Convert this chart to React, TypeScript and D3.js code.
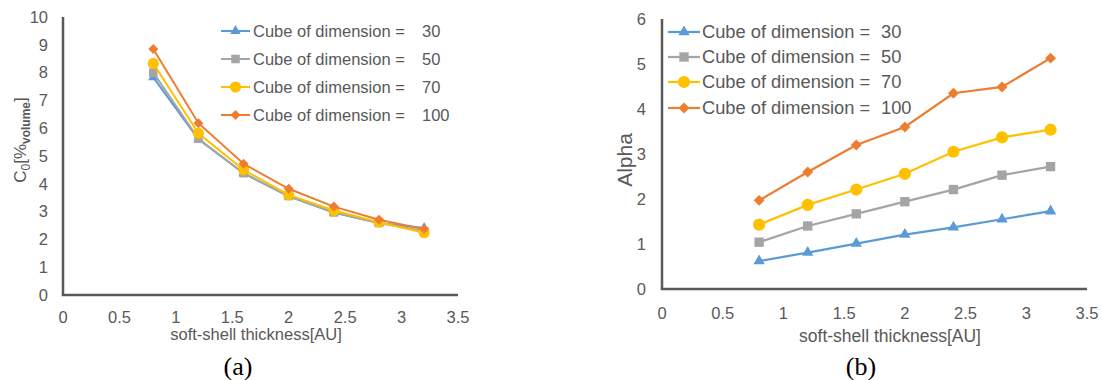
import React from 'react';
import * as d3 from 'd3';

// soft-shell thickness values shared by both panels
const thickness = [0.8, 1.2, 1.6, 2.0, 2.4, 2.8, 3.2];

// panel (a): C0 [% volume]
const c0Dim30 = [7.83, 5.6, 4.38, 3.55, 2.97, 2.59, 2.41];
const c0Dim50 = [8.0, 5.62, 4.38, 3.56, 2.97, 2.59, 2.3];
const c0Dim70 = [8.33, 5.82, 4.5, 3.6, 3.04, 2.62, 2.24];
const c0Dim100 = [8.85, 6.18, 4.72, 3.82, 3.18, 2.71, 2.37];

// panel (b): Alpha
const alphaDim30 = [0.62, 0.81, 1.01, 1.21, 1.37, 1.55, 1.73];
const alphaDim50 = [1.04, 1.4, 1.67, 1.94, 2.21, 2.53, 2.72];
const alphaDim70 = [1.43, 1.87, 2.21, 2.56, 3.05, 3.37, 3.54];
const alphaDim100 = [1.97, 2.6, 3.2, 3.6, 4.35, 4.49, 5.13];

const dimensions = ['30', '50', '70', '100'];
const xTicks = [0, 0.5, 1, 1.5, 2, 2.5, 3, 3.5];
const c0Ticks = [0, 1, 2, 3, 4, 5, 6, 7, 8, 9, 10];
const alphaTicks = [0, 1, 2, 3, 4, 5, 6];

const colors = ['#5B9BD5', '#A5A5A5', '#FFC000', '#ED7D31'];
const textColor = '#595959';
const font = '"Liberation Sans", Arial, sans-serif';

// marker shape per series: triangle, square, circle, diamond
const markerPath = (i: number, big: boolean) => {
  const k = big ? 1.15 : 1.05;
  if (i === 0) return d3.symbol(d3.symbolTriangle, 42 * k * k)();
  if (i === 1) return d3.symbol(d3.symbolSquare, 66 * k * k)();
  if (i === 2) return d3.symbol(d3.symbolCircle, 88 * k * k)();
  return d3.symbol(d3.symbolSquare, 45 * k * k)();
};

const Marker = ({ i, x, y, big }: { i: number; x: number; y: number; big: boolean }) => (
  <path
    d={markerPath(i, big) || ''}
    transform={`translate(${x},${y})${i === 3 ? ' rotate(45)' : ''}`}
    fill={colors[i]}
  />
);

type PanelProps = {
  series: number[][];
  yMax: number;
  yTicks: number[];
  x0: number;
  x1: number;
  yTop: number;
  yBottom: number;
  tickLabelX: number;
  xTickY: number;
  legend: { lineX0: number; lineX1: number; textX: number; numX: number; rows: number[]; size: number };
  big: boolean;
  xTitleX: number;
  xTitleY: number;
  xTitleSize: number;
  titleX: number;
  titleY: number;
  titleSize: number;
  yTitle: React.ReactNode;
  caption: string;
  captionX: number;
};

const Panel = (p: PanelProps) => {
  const x = d3.scaleLinear().domain([0, 3.5]).range([p.x0, p.x1]);
  const y = d3.scaleLinear().domain([0, p.yMax]).range([p.yBottom, p.yTop]);
  const line = d3
    .line<number>()
    .x((_, j) => x(thickness[j]))
    .y((d) => y(d));
  const lw = p.big ? 2.25 : 2;
  return (
    <g>
      {/* axes */}
      <line x1={p.x0} x2={p.x0} y1={p.yTop} y2={p.yBottom} stroke={textColor} strokeWidth={2.5} />
      <line x1={p.x0 - 1.25} x2={p.x1} y1={p.yBottom} y2={p.yBottom} stroke={textColor} strokeWidth={2.5} />
      {p.yTicks.map((t) => (
        <text key={t} x={p.tickLabelX} y={y(t)} dy="0.35em" textAnchor="end" fontSize={16.5} fill={textColor} fontFamily={font}>
          {t}
        </text>
      ))}
      {xTicks.map((t) => (
        <text key={t} x={x(t)} y={p.xTickY} dy="0.35em" textAnchor="middle" fontSize={16.5} fill={textColor} fontFamily={font}>
          {t}
        </text>
      ))}
      <text x={p.xTitleX} y={p.xTitleY} textAnchor="middle" fontSize={p.xTitleSize} fill={textColor} fontFamily={font}>
        soft-shell thickness[AU]
      </text>
      <g transform={`translate(${p.titleX},${p.titleY}) rotate(-90)`}>
        <text textAnchor="middle" dy="0.35em" fontSize={p.titleSize} fill={textColor} fontFamily={font}>
          {p.yTitle}
        </text>
      </g>
      {/* series */}
      {p.series.map((s, i) => (
        <g key={i}>
          <path d={line(s) || ''} fill="none" stroke={colors[i]} strokeWidth={lw} />
          {s.map((v, j) => (
            <Marker key={j} i={i} x={x(thickness[j])} y={y(v)} big={p.big} />
          ))}
        </g>
      ))}
      {/* legend */}
      {dimensions.map((d, i) => {
        const ry = p.legend.rows[i];
        return (
          <g key={d}>
            <line x1={p.legend.lineX0} x2={p.legend.lineX1} y1={ry} y2={ry} stroke={colors[i]} strokeWidth={lw} />
            <Marker i={i} x={(p.legend.lineX0 + p.legend.lineX1) / 2} y={ry} big={p.big} />
            <text x={p.legend.textX} y={ry} dy="0.35em" fontSize={p.legend.size} fill={textColor} fontFamily={font}>
              Cube of dimension =
            </text>
            <text x={p.legend.numX} y={ry} dy="0.35em" fontSize={p.legend.size} fill={textColor} fontFamily={font}>
              {d}
            </text>
          </g>
        );
      })}
      <text x={p.captionX} y={375} textAnchor="middle" fontSize={26} fill="#000" fontFamily='"Liberation Serif", "Times New Roman", serif'>
        {p.caption}
      </text>
    </g>
  );
};

export default function App() {
  return (
    <svg
      width={1103}
      height={380}
      style={{ position: 'absolute', left: 0, top: 0, background: '#fff' }}
    >
      <rect width={1103} height={380} fill="#fff" />
      <Panel
        series={[c0Dim30, c0Dim50, c0Dim70, c0Dim100]}
        yMax={10}
        yTicks={c0Ticks}
        x0={63}
        x1={458}
        yTop={17}
        yBottom={295}
        tickLabelX={48}
        xTickY={317}
        legend={{ lineX0: 221, lineX1: 250, textX: 253, numX: 422, rows: [31, 59, 87, 115], size: 16.5 }}
        big={false}
        xTitleX={256}
        xTitleY={340}
        xTitleSize={16.5}
        titleX={20}
        titleY={140}
        titleSize={17}
        yTitle={
          <>
            <tspan>C</tspan>
            <tspan fontSize={12} dy="4">0</tspan>
            <tspan dy="-4">[%</tspan>
            <tspan fontSize={12} fontWeight="bold" dy="4">volume</tspan>
            <tspan dy="-4">]</tspan>
          </>
        }
        caption="(a)"
        captionX={238}
      />
      <Panel
        series={[alphaDim30, alphaDim50, alphaDim70, alphaDim100]}
        yMax={6}
        yTicks={alphaTicks}
        x0={662}
        x1={1087}
        yTop={19}
        yBottom={289}
        tickLabelX={646}
        xTickY={313}
        legend={{ lineX0: 668, lineX1: 700, textX: 702, numX: 881, rows: [32, 57, 82, 108], size: 18.3 }}
        big={true}
        xTitleX={890}
        xTitleY={342}
        xTitleSize={17.5}
        titleX={625}
        titleY={160}
        titleSize={21}
        yTitle="Alpha"
        caption="(b)"
        captionX={861}
      />
    </svg>
  );
}
